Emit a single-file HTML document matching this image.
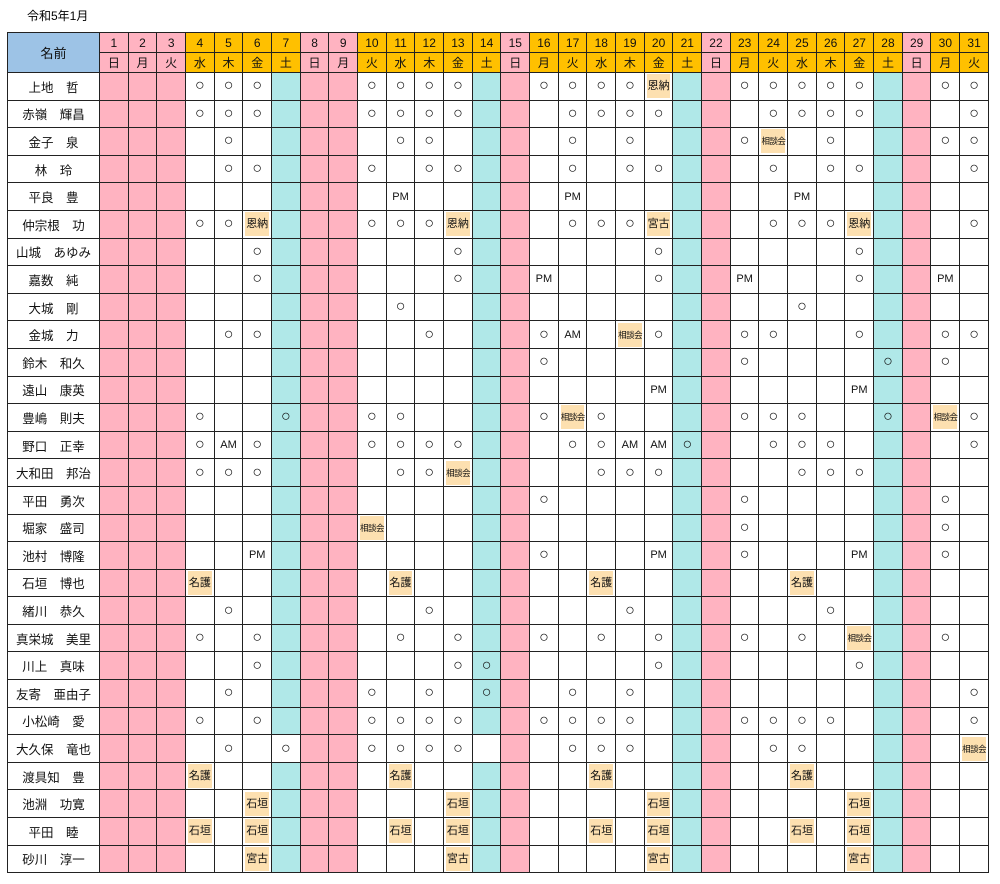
<!DOCTYPE html>
<html><head><meta charset="utf-8">
<style>
body{margin:0;width:1000px;height:884px;background:#fff;font-family:"Liberation Sans","Noto Sans CJK JP",sans-serif;position:relative;overflow:hidden}
#title{position:absolute;left:27px;top:7px;font-size:12px;color:#000}
table{position:absolute;left:7px;top:32px;width:982px;border-collapse:collapse;table-layout:fixed}
td{border:1.5px solid #222;padding:0;text-align:center;vertical-align:middle;font-size:12px;color:#111;overflow:hidden;white-space:nowrap}
tr.h td{height:19px}
tr.d td{height:26.1px}
td.nm{background:#fff;font-size:12.5px}
td.nh{background:#9dc3e6;font-size:13px}
.pk{background:#ffb3c1}
.cy{background:#b0e8e8}
.or{background:#ffc000}
.tag{display:block;margin:1px 2px;background:#fde0b0;line-height:24px;font-size:11px}
.tag.s{font-size:8.5px;letter-spacing:-0.5px}
.c{font-size:16px;line-height:16px}
</style></head><body>
<div id="title">令和5年1月</div>
<table id="t"></table>
<script>
const names=["上地　哲","赤嶺　輝昌","金子　泉","林　玲","平良　豊","仲宗根　功","山城　あゆみ","嘉数　純","大城　剛","金城　力","鈴木　和久","遠山　康英","豊嶋　則夫","野口　正幸","大和田　邦治","平田　勇次","堀家　盛司","池村　博隆","石垣　博也","緒川　恭久","真栄城　美里","川上　真味","友寄　亜由子","小松崎　愛","大久保　竜也","渡具知　豊","池淵　功寛","平田　睦","砂川　淳一"];
const entries=[
"4o 5o 6o 10o 11o 12o 13o 16o 17o 18o 19o 20恩納 23o 24o 25o 26o 27o 30o 31o",
"4o 5o 6o 10o 11o 12o 13o 17o 18o 19o 20o 24o 25o 26o 27o 31o",
"5o 11o 12o 17o 19o 23o 24相談会 26o 30o 31o",
"5o 6o 10o 12o 13o 17o 19o 20o 24o 26o 27o 31o",
"11PM 17PM 25PM",
"4o 5o 6恩納 10o 11o 12o 13恩納 17o 18o 19o 20宮古 24o 25o 26o 27恩納 31o",
"6o 13o 20o 27o",
"6o 13o 16PM 20o 23PM 27o 30PM",
"11o 25o",
"5o 6o 12o 16o 17AM 19相談会 20o 23o 24o 27o 30o 31o",
"16o 23o 28o 30o",
"20PM 27PM",
"4o 7o 10o 11o 16o 17相談会 18o 23o 24o 25o 28o 30相談会 31o",
"4o 5AM 6o 10o 11o 12o 13o 17o 18o 19AM 20AM 21o 24o 25o 26o 31o",
"4o 5o 6o 11o 12o 13相談会 18o 19o 20o 25o 26o 27o",
"16o 23o 30o",
"10相談会 23o 30o",
"6PM 16o 20PM 23o 27PM 30o",
"4名護 11名護 18名護 25名護",
"5o 12o 19o 26o",
"4o 6o 11o 13o 16o 18o 20o 23o 25o 27相談会 30o",
"6o 13o 14o 20o 27o",
"5o 10o 12o 14o 17o 19o 31o",
"4o 6o 10o 11o 12o 13o 16o 17o 18o 19o 23o 24o 25o 26o 31o",
"5o 7o 10o 11o 12o 13o 17o 18o 19o 24o 25o 31相談会",
"4名護 11名護 18名護 25名護",
"6石垣 13石垣 20石垣 27石垣",
"4石垣 6石垣 11石垣 13石垣 18石垣 20石垣 25石垣 27石垣",
"6宮古 13宮古 20宮古 27宮古"];
const weekdays=["日","月","火","水","木","金","土"];
const holidays=[1,2,3,9];
const whiteSat={24:[7,14]};
const t=document.getElementById('t');
const cg=document.createElement('colgroup');
let c0=document.createElement('col');c0.style.width='92px';cg.appendChild(c0);
for(let d=1;d<=31;d++){let c=document.createElement('col');cg.appendChild(c);}
t.appendChild(cg);
function isRed(d){return (d-1)%7===0||holidays.includes(d);}
const h1=document.createElement('tr');h1.className='h';
const h2=document.createElement('tr');h2.className='h';
const nh=document.createElement('td');nh.className='nh';nh.rowSpan=2;nh.textContent='名前';


h1.appendChild(nh);
for(let d=1;d<=31;d++){
 const a=document.createElement('td');a.className=isRed(d)?'pk':'or';a.textContent=d;
 
 
 h1.appendChild(a);
 const b=document.createElement('td');b.className=isRed(d)?'pk':'or';b.textContent=weekdays[(d-1)%7];
 
 
 h2.appendChild(b);
}
t.appendChild(h1);t.appendChild(h2);
names.forEach((n,i)=>{
 const tr=document.createElement('tr');tr.className='d';
 tr.style.height='27.6px';
 
 
 const nc=document.createElement('td');nc.className='nm';nc.textContent=n;
 
 
 tr.appendChild(nc);
 const map={};
 entries[i].split(' ').forEach(s=>{const m=s.match(/^(\d+)(.*)$/);map[+m[1]]=m[2];});
 for(let d=1;d<=31;d++){
  const td=document.createElement('td');
  
  
  const sat=(d-1)%7===6;
  if(isRed(d))td.className='pk';
  else if(sat&&!(whiteSat[i]&&whiteSat[i].includes(d)))td.className='cy';
  const v=map[d];
  if(v==='o'){td.innerHTML='<span class="c">○</span>';}
  else if(v==='AM'||v==='PM'){td.textContent=v;td.style.fontSize='11px';}
  else if(v){const sp=document.createElement('span');sp.className='tag'+(v.length>2?' s':'');sp.textContent=v;td.appendChild(sp);}
  tr.appendChild(td);
 }
 t.appendChild(tr);
});
// stretch data rows so table bottom lands at ~872
const rows=t.querySelectorAll('tr.d');
const hdrH=t.querySelector('tr.h').getBoundingClientRect().height*2;
const per=(840-hdrH)/rows.length;
rows.forEach(r=>{r.querySelectorAll('td').forEach(c=>{c.style.height=(per-1.5)+'px';});});
</script>
</body></html>
